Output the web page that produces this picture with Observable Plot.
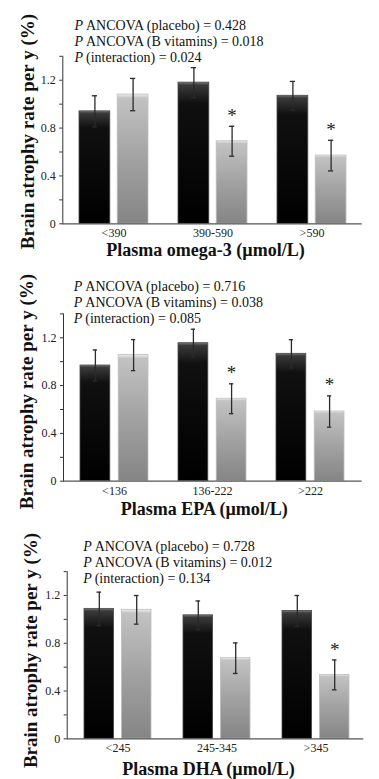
<!DOCTYPE html>
<html><head><meta charset="utf-8">
<script src="https://cdn.jsdelivr.net/npm/d3@7"></script>
<script src="https://cdn.jsdelivr.net/npm/@observablehq/plot@0.6"></script>
<style>
body{margin:0;background:#fff;width:379px;}
#charts svg{display:block;}
</style></head><body>
<svg width="0" height="0" style="position:absolute">
<defs>
<linearGradient id="gBlack" x1="0" y1="0" x2="0" y2="1">
 <stop offset="0" stop-color="#7a7a7a"/>
 <stop offset="0.02" stop-color="#3a3a3a"/>
 <stop offset="0.15" stop-color="#101010"/>
 <stop offset="1" stop-color="#000"/>
</linearGradient>
<linearGradient id="gGrey" x1="0" y1="0" x2="0" y2="1">
 <stop offset="0" stop-color="#f0f0f0"/>
 <stop offset="0.03" stop-color="#c2c2c2"/>
 <stop offset="0.5" stop-color="#a2a2a2"/>
 <stop offset="1" stop-color="#858585"/>
</linearGradient>
</defs></svg>
<div id="charts"></div>
<script>
// ---- data ----
const groupsOmega3 = ["<390", "390-590", ">590"];
const placeboOmega3 = [0.94, 1.18, 1.07];
const placeboSeOmega3 = [0.13, 0.125, 0.12];
const bvitOmega3 = [1.08, 0.69, 0.57];
const bvitSeOmega3 = [0.135, 0.125, 0.128];
const sigOmega3 = [false, true, true];

const groupsEPA = ["<136", "136-222", ">222"];
const placeboEPA = [0.968, 1.155, 1.066];
const placeboSeEPA = [0.13, 0.117, 0.118];
const bvitEPA = [1.055, 0.69, 0.583];
const bvitSeEPA = [0.13, 0.125, 0.131];
const sigEPA = [false, true, true];

const groupsDHA = ["<245", "245-345", ">345"];
const placeboDHA = [1.088, 1.034, 1.07];
const placeboSeDHA = [0.14, 0.12, 0.13];
const bvitDHA = [1.08, 0.675, 0.535];
const bvitSeDHA = [0.12, 0.128, 0.125];
const sigDHA = [false, false, true];

const pPlacebo = ["0.428", "0.716", "0.728"];
const pBvit = ["0.018", "0.038", "0.012"];
const pInteraction = ["0.024", "0.085", "0.134"];
const xTitles = ["Plasma omega-3 (\u00b5mol/L)", "Plasma EPA (\u00b5mol/L)", "Plasma DHA (\u00b5mol/L)"];
const yTitle = "Brain atrophy rate per y (%)";
const yTicks = [0, 0.2, 0.4, 0.6, 0.8, 1.0, 1.2, 1.4];
const yTickLabels = [0, 0.4, 0.8, 1.2];
const yDomain = [0, 1.4];

// ---- layout (styles only) ----
const layouts = [
  {height: 260, mt: 55.8, mb: 36.7, ml: 62.3, mr: 17.3, pi: 0.306, po: 0.163, align: 0.517, inset: 38.2, off: 19.1, cap: 31.9, pDx: 11.7, pDy: -15.8, yDx: -35.3, yDy: -8.5, xDx: -7, xDy: 26.7},
  {height: 260, mt: 53.4, mb: 39.3, ml: 63, mr: 17.3, pi: 0.306, po: 0.163, align: 0.5, inset: 38.2, off: 19.1, cap: 31.9, pDx: 10.3, pDy: -12.4, yDx: -36.3, yDy: -6, xDx: -8.5, xDy: 27.6},
  {height: 259, mt: 51.1, mb: 40.7, ml: 66.7, mr: 15.7, pi: 0.324, po: 0.149, align: 0.557, inset: 37.4, off: 18.7, cap: 31.2, pDx: 16, pDy: -9.4, yDx: -36.7, yDy: -4.7, xDx: -7, xDy: 30}
];

const serif = "'Liberation Serif', 'Times New Roman', serif";

function panel(i, groups, placebo, seP, bvit, seB, sig) {
  const L = layouts[i];
  const pRows = groups.map((g, k) => ({group: g, value: placebo[k], lo: placebo[k] - seP[k], hi: placebo[k] + seP[k]}));
  const bRows = groups.map((g, k) => ({group: g, value: bvit[k], lo: bvit[k] - seB[k], hi: bvit[k] + seB[k], sig: sig[k]}));
  const errColor = "#2a2a2a";
  const plot = Plot.plot({
    width: 379,
    height: L.height,
    marginTop: L.mt, marginBottom: L.mb, marginLeft: L.ml, marginRight: L.mr,
    style: {fontFamily: serif, fontSize: "12px", color: "#333", background: "#fff"},
    x: {domain: groups, paddingInner: L.pi, paddingOuter: L.po, align: L.align, tickSize: 0, tickPadding: 5, label: null},
    y: {domain: yDomain, ticks: yTicks, tickFormat: d => yTickLabels.includes(d) ? String(d) : "", tickSize: 3, tickPadding: 4, line: true, label: null},
    marks: [
      Plot.barY(pRows, {x: "group", y: "value", insetRight: L.inset, fill: "url(#gBlack)", stroke: "#484848", strokeWidth: 0.8}),
      Plot.barY(bRows, {x: "group", y: "value", insetLeft: L.inset, fill: "url(#gGrey)", stroke: "#bdbdbd", strokeWidth: 0.8}),
      Plot.ruleY([0], {stroke: "#555", strokeWidth: 1.2}),
      Plot.ruleX(pRows, {x: "group", y1: "lo", y2: "hi", dx: -L.off, stroke: errColor, strokeWidth: 1.3}),
      Plot.tickY(pRows, {x: "group", y: "hi", dx: -L.off, insetLeft: L.cap, insetRight: L.cap, stroke: errColor, strokeWidth: 1.3}),
      Plot.tickY(pRows, {x: "group", y: "lo", dx: -L.off, insetLeft: L.cap, insetRight: L.cap, stroke: errColor, strokeWidth: 1.3}),
      Plot.ruleX(bRows, {x: "group", y1: "lo", y2: "hi", dx: L.off, stroke: errColor, strokeWidth: 1.3}),
      Plot.tickY(bRows, {x: "group", y: "hi", dx: L.off, insetLeft: L.cap, insetRight: L.cap, stroke: errColor, strokeWidth: 1.3}),
      Plot.tickY(bRows, {x: "group", y: "lo", dx: L.off, insetLeft: L.cap, insetRight: L.cap, stroke: errColor, strokeWidth: 1.3}),
      Plot.text(bRows.filter(d => d.sig), {x: "group", y: "hi", dx: L.off, dy: -10.5, text: () => "*", fontSize: 19, fill: "#222", lineAnchor: "middle"}),
      Plot.text(["P\nP\nP"], {frameAnchor: "top-left", text: d => d, dx: L.pDx, dy: L.pDy, fontStyle: "italic", fontSize: 14, fill: "#111", textAnchor: "start", lineAnchor: "middle", lineHeight: 1.14}),
      Plot.text([`ANCOVA (placebo) = ${pPlacebo[i]}\nANCOVA (B vitamins) = ${pBvit[i]}\n(interaction) = ${pInteraction[i]}`], {frameAnchor: "top-left", text: d => d, dx: L.pDx + 11.5, dy: L.pDy, fontSize: 14, fill: "#111", textAnchor: "start", lineAnchor: "middle", lineHeight: 1.14}),
      Plot.text([yTitle], {frameAnchor: "left", text: d => d, rotate: -90, dx: L.yDx, dy: L.yDy, fontWeight: "bold", fontSize: 19, fill: "#111", textAnchor: "middle", lineAnchor: "middle", ariaLabel: "y-title"}),
      Plot.text([xTitles[i]], {frameAnchor: "bottom", text: d => d, dx: L.xDx, dy: L.xDy, fontWeight: "bold", fontSize: 18, fill: "#111", textAnchor: "middle", lineAnchor: "middle", ariaLabel: "x-title"})
    ]
  });
  d3.select(plot).selectAll('g[aria-label="x-title"] text').attr("textLength", 262).attr("lengthAdjust", "spacingAndGlyphs");
  d3.select(plot).selectAll('g[aria-label="y-title"] text').attr("textLength", 198).attr("lengthAdjust", "spacingAndGlyphs");
  d3.select(plot).selectAll('g[aria-label*="axis"] text').style("font-family", serif).style("font-size", "12px").style("fill", "#222");
  return plot;
}

const host = document.getElementById("charts");
host.appendChild(panel(0, groupsOmega3, placeboOmega3, placeboSeOmega3, bvitOmega3, bvitSeOmega3, sigOmega3));
host.appendChild(panel(1, groupsEPA, placeboEPA, placeboSeEPA, bvitEPA, bvitSeEPA, sigEPA));
host.appendChild(panel(2, groupsDHA, placeboDHA, placeboSeDHA, bvitDHA, bvitSeDHA, sigDHA));
</script>
</body></html>
